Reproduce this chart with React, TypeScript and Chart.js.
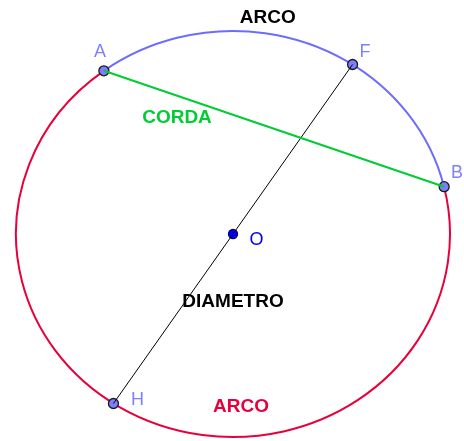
import React, { useEffect, useRef } from "react";
import { Chart, registerables } from "chart.js";

Chart.register(...registerables);

// Unit circle (drawn with unequal axis scales, as in the source)
const circleCenter = { x: 0, y: 0 };
const circleRadius = 1;

const pointNames = ["A", "B", "F", "H"];
const pointX = [-0.595, 0.973, 0.551, -0.551];
const pointY = [0.804, 0.233, 0.835, -0.835];

const centerName = "O";
const centerX = [0];
const centerY = [0];

const textLabels = ["ARCO", "CORDA", "DIAMETRO", "ARCO"];
const textX = [0.16, -0.258, 0.0, 0.037];
const textY = [1.039, 0.547, -0.36, -0.877];

const nameX = [-0.613, 1.032, 0.608, -0.44];
const nameY = [0.872, 0.276, 0.872, -0.842];
const centerNameX = 0.108;
const centerNameY = -0.054;

const BLUE_ARC = "#6c6cff";
const RED_ARC = "#e8003c";
const GREEN = "#00cc33";
const POINT_FILL = "#7d7dff";
const POINT_LABEL = "#7f7fff";
const textColors = ["#000000", GREEN, "#000000", RED_ARC];

const idx = (n: string) => pointNames.indexOf(n);

const arcPlugin = {
  id: "arcs",
  beforeDatasetsDraw(chart: any) {
    const { ctx, scales } = chart;
    const xs = scales.x;
    const ys = scales.y;
    const cx = xs.getPixelForValue(circleCenter.x);
    const cy = ys.getPixelForValue(circleCenter.y);
    const rx = xs.getPixelForValue(circleCenter.x + circleRadius) - cx;
    const ry = cy - ys.getPixelForValue(circleCenter.y + circleRadius);
    const ang = (n: string) => {
      const i = idx(n);
      const px = xs.getPixelForValue(pointX[i]);
      const py = ys.getPixelForValue(pointY[i]);
      return Math.atan2((py - cy) / ry, (px - cx) / rx);
    };
    const tA = ang("A");
    const tB = ang("B");
    ctx.save();
    ctx.lineWidth = 2;
    ctx.strokeStyle = BLUE_ARC;
    ctx.beginPath();
    ctx.ellipse(cx, cy, rx, ry, 0, tA, tB, false);
    ctx.stroke();
    ctx.strokeStyle = RED_ARC;
    ctx.beginPath();
    ctx.ellipse(cx, cy, rx, ry, 0, tB, tA + Math.PI * 2, false);
    ctx.stroke();
    ctx.restore();
  },
};

const labelPlugin = {
  id: "labels",
  afterDatasetsDraw(chart: any) {
    const { ctx, scales } = chart;
    const xs = scales.x;
    const ys = scales.y;
    ctx.save();
    ctx.textAlign = "center";
    ctx.textBaseline = "alphabetic";
    ctx.font = "bold 19px 'Liberation Sans', Arial, sans-serif";
    textLabels.forEach((t, i) => {
      ctx.fillStyle = textColors[i];
      ctx.fillText(t, xs.getPixelForValue(textX[i]), ys.getPixelForValue(textY[i]));
    });
    ctx.font = "18px 'Liberation Sans', Arial, sans-serif";
    ctx.fillStyle = POINT_LABEL;
    pointNames.forEach((n, i) => {
      ctx.fillText(n, xs.getPixelForValue(nameX[i]), ys.getPixelForValue(nameY[i]));
    });
    ctx.fillStyle = "#0000ff";
    ctx.fillText(centerName, xs.getPixelForValue(centerNameX), ys.getPixelForValue(centerNameY));
    ctx.restore();
  },
};

export default function App() {
  const ref = useRef<HTMLCanvasElement | null>(null);
  useEffect(() => {
    if (!ref.current) return;
    const pt = (n: string) => ({ x: pointX[idx(n)], y: pointY[idx(n)] });
    const chart = new Chart(ref.current, {
      type: "scatter",
      data: {
        datasets: [
          {
            label: "corda",
            data: [pt("A"), pt("B")],
            showLine: true,
            borderColor: GREEN,
            borderWidth: 2,
            pointRadius: 0,
          },
          {
            label: "diametro",
            data: [pt("F"), pt("H")],
            showLine: true,
            borderColor: "#000000",
            borderWidth: 1,
            pointRadius: 0,
          },
          {
            label: "points",
            data: pointNames.map((n) => pt(n)),
            pointRadius: 5,
            pointBackgroundColor: POINT_FILL,
            pointBorderColor: "#1a1a1a",
            pointBorderWidth: 1.3,
          },
          {
            label: "center",
            data: [{ x: centerX[0], y: centerY[0] }],
            pointRadius: 4.5,
            pointBackgroundColor: "#0000ff",
            pointBorderColor: "#00007a",
            pointBorderWidth: 1.3,
          },
        ],
      },
      options: {
        animation: false,
        responsive: false,
        maintainAspectRatio: false,
        layout: { padding: 0, autoPadding: false },
        clip: false,
        plugins: { legend: { display: false }, tooltip: { enabled: false } },
        scales: {
          x: { type: "linear", display: false, min: -233 / 217, max: 231 / 217 },
          y: { type: "linear", display: false, min: -207 / 203, max: 234 / 203 },
        },
      },
      plugins: [arcPlugin, labelPlugin],
    });
    return () => chart.destroy();
  }, []);
  return (
    <div style={{ position: "fixed", left: 0, top: 0, width: 464, height: 441, background: "#fff" }}>
      <canvas ref={ref} width={464} height={441} style={{ display: "block" }} />
    </div>
  );
}
